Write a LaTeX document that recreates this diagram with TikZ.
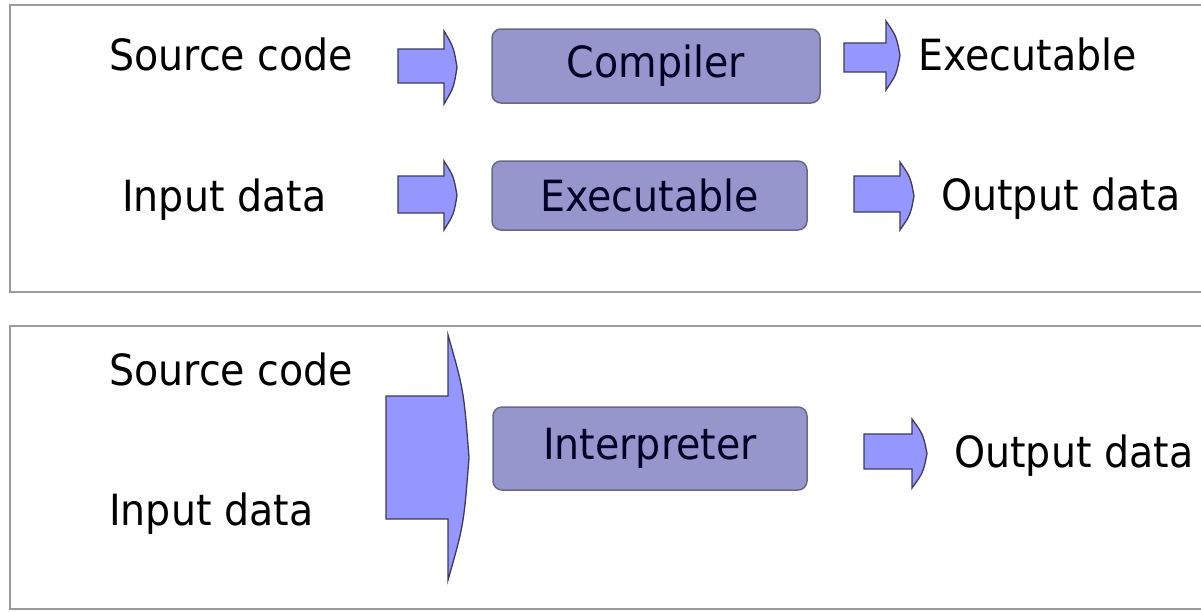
\documentclass[tikz,border=0pt]{standalone}
\usepackage{fontspec}
\setmainfont{DejaVu Sans}[FakeStretch=0.92]
\definecolor{arrowfill}{RGB}{150,150,255}
\definecolor{arrowline}{RGB}{60,60,90}
\definecolor{boxfill}{RGB}{150,150,205}
\definecolor{boxline}{RGB}{105,105,135}
\definecolor{framegray}{RGB}{155,155,155}
\newcommand\blockarrow[7]{%
  \pgfmathsetmacro\baMid{(#5+#6)/2}%
  \pgfmathsetmacro\baCx{#2+0.75*(#7-#2)}%
  \pgfmathsetmacro\baCa{#5+0.45*(\baMid-#5)}%
  \pgfmathsetmacro\baCb{#6-0.45*(#6-\baMid)}%
  \draw[barrow] (#1,#3) -- (#2,#3) -- (#2,#5) .. controls (\baCx,\baCa) .. (#7,\baMid) .. controls (\baCx,\baCb) .. (#2,#6) -- (#2,#4) -- (#1,#4) -- cycle;}
\begin{document}
\begin{tikzpicture}[x=1pt,y=-1pt,
  frame/.style={draw=framegray,line width=2.5pt},
  barrow/.style={fill=arrowfill,draw=arrowline,line width=1.3pt,line join=miter},
  label/.style={anchor=base west,inner sep=0pt,font=\fontsize{43}{50}\selectfont},
  procbox/.style={draw=boxline,fill=boxfill,line width=1.5pt,rounded corners=9pt,
    inner sep=0pt,font=\fontsize{43}{50}\selectfont,text=black!85!blue}]
\useasboundingbox (0,0) rectangle (1201,611);
\fill[white] (0,0) rectangle (1201,611);
% frames
\draw[frame] (10,5) rectangle (1215,292);
\draw[frame] (10,326) rectangle (1215,609);
% compiler panel
\node[label] (src1) at (109,70) {Source code};
\blockarrow{398}{444}{49}{83}{31}{104}{457}
\node[procbox,minimum width=328pt,minimum height=74pt] (comp) at (656,66) {Compiler};
\blockarrow{844}{886}{43}{72}{21}{90}{900}
\node[label] (exe1) at (918,70) {Executable};
\node[label] (in1) at (122,211) {Input data};
\blockarrow{398}{444}{176}{213}{161}{230}{457}
\node[procbox,minimum width=315pt,minimum height=69pt] (exe) at (649.5,195.5) {Executable};
\blockarrow{854}{900}{176}{212}{162}{230}{914}
\node[label] (out1) at (941,210) {Output data};
% interpreter panel
\node[label] (src2) at (109,385) {Source code};
\node[label] (in2) at (109,525) {Input data};
\blockarrow{386}{448}{396}{519}{335}{580}{469}
\node[procbox,minimum width=314pt,minimum height=83pt] (interp) at (650,448.5) {Interpreter};
\blockarrow{864}{912}{434}{469}{419}{488}{927}
\node[label] (out2) at (954,467) {Output data};
\end{tikzpicture}
\end{document}
